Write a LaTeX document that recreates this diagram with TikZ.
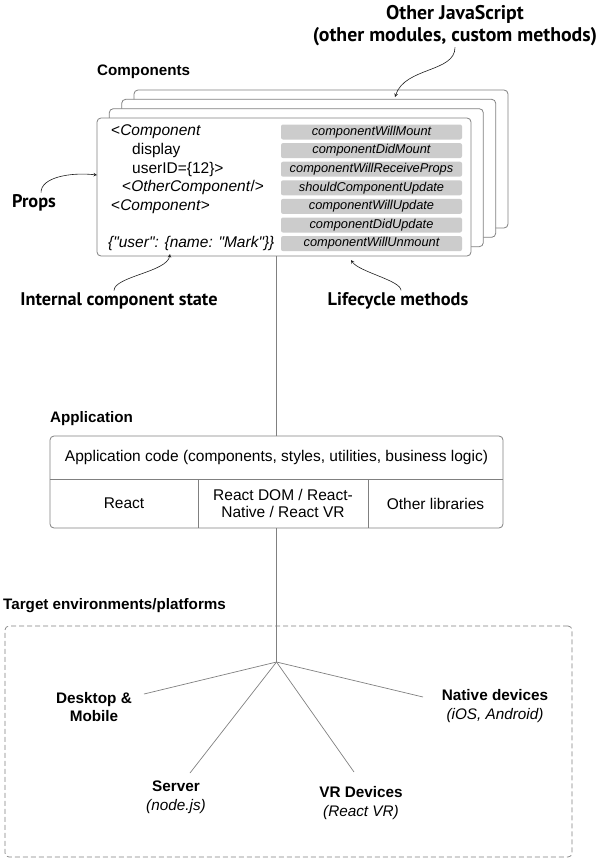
\documentclass[tikz,border=0pt]{standalone}
\usepackage{fontspec}
\setmainfont{Liberation Sans}
\newfontfamily\codefont{Liberation Sans}[Ligatures=TeXOff]
\newfontfamily\calloutfont{PT Sans}
\usepackage{tikz}
\usetikzlibrary{positioning, arrows}
\definecolor{linegray}{gray}{0.5}
\definecolor{pillgray}{gray}{0.8}
\definecolor{inkgray}{gray}{0.12}

\begin{document}
\begin{tikzpicture}[
        x=1pt, y=-1pt,
        % Define styles for the pieces
        card/.style={draw=linegray, fill=white, rounded corners=4pt, line width=0.8pt, outer sep=0pt, minimum width=374pt, minimum height=138pt},
        method/.style={fill=pillgray, rounded corners=2pt, minimum width=181pt, minimum height=15pt, inner sep=0pt, font=\fontsize{12.8}{14}\selectfont\itshape},
        code/.style={anchor=west, inner sep=0pt, font=\codefont\fontsize{15.5}{18}\selectfont},
        heading/.style={anchor=west, inner sep=0pt, font=\fontsize{15.2}{18}\selectfont\bfseries},
        callout/.style={align=center, inner sep=0pt, font=\calloutfont\fontsize{18.3}{22}\selectfont\bfseries},
        pointer/.style={->,>=stealth, line width=0.6pt, inkgray},
        cell/.style={align=center, inner sep=0pt, outer sep=0pt, font=\fontsize{15.5}{17.5}\selectfont},
        platform/.style={align=center, inner sep=0pt, font=\fontsize{15.3}{18.5}\selectfont\bfseries},
        link/.style={draw=linegray, line width=0.7pt}
    ]
    \useasboundingbox (0,0) rectangle (596,862);

    % Components: stacked cards
    \node[heading] (comphead) at (97,72) {Components};
    \node[card] (card3) at (321,159) {};
    \node[card] (card2) at (308.7,168.3) {};
    \node[card] (card1) at (296.3,177.7) {};
    \node[card] (front) at (284,187) {};

    \node[code] (tag) at (111,132) {<\textit{Component}};
    \node[code] (display) at (132,150.6) {display};
    \node[code] (userid) at (132,169.2) {userID=\{12\}>};
    \node[code] (child) at (122,187.8) {<\textit{OtherComponent}/>};
    \node[code] (close) at (111,206.4) {<\textit{Component}>};
    \node[code] (state) at (108,243.6) {\textit{\{"user": \{name: "Mark"\}\}}};

    \foreach \m [count=\i] in {componentWillMount, componentDidMount, componentWillReceiveProps,
        shouldComponentUpdate, componentWillUpdate, componentDidUpdate, componentWillUnmount}
        \node[method] (m\i) at (371.5,{132+18.6*(\i-1)}) {\m};

    % Callouts
    \node[callout, font=\calloutfont\fontsize{19.8}{22}\selectfont\bfseries] (otherjs) at (455,26) {Other JavaScript\\(other modules, custom methods)};
    \node[callout] (props) at (34,203) {Props};
    \node[callout] (statelabel) at (119,301) {Internal component state};
    \node[callout] (lifecycle) at (398,301) {Lifecycle methods};

    \coordinate (jstip) at (395,97);
    \coordinate (propstip) at (97,175);
    \coordinate (statetip) at (170,254);
    \coordinate (lifetip) at (351,260);

    \draw[pointer] ([xshift=0pt,yshift=-1pt]otherjs.south) .. controls +(0,25) and +(10,-30) .. (jstip);
    \draw[pointer] ([xshift=7pt,yshift=2pt]props.north) .. controls +(0,-15) and +(-27,-3) .. (propstip);
    \draw[pointer] ([xshift=-5pt,yshift=2pt]statelabel.north) .. controls +(0,-14) and +(-3,18) .. (statetip);
    \draw[pointer] ([xshift=3pt,yshift=2pt]lifecycle.north) .. controls +(0,-10) and +(8,12) .. (lifetip);

    % Application
    \node[heading] (apphead) at (50,419) {Application};
    \node[card, minimum width=453pt, minimum height=92pt] (app) at (276.5,482) {};
    \node[cell, minimum width=453pt, minimum height=43pt] (appcode) at (276.5,457.5)
        {Application code (components, styles, utilities, business logic)};
    \node[cell, minimum width=148pt, minimum height=49pt] (react) at (124,503.5) {React};
    \node[cell, minimum width=170pt, minimum height=49pt, right=0pt of react] (renderers)
        {React DOM / React-\\Native / React VR};
    \node[cell, minimum width=135pt, minimum height=49pt, right=0pt of renderers] (otherlibs) {Other libraries};
    \draw[link] (appcode.south west) -- (appcode.south east);
    \draw[link] (react.north east) -- (react.south east);
    \draw[link] (renderers.north east) -- (renderers.south east);

    \draw[link] (app.north) -- (app.north |- front.south);

    % Target environments
    \node[heading] (targethead) at (3,606) {Target environments/platforms};
    \node[draw=linegray, dash pattern=on 5pt off 3pt, rounded corners=4pt, line width=0.7pt,
        minimum width=567pt, minimum height=231pt] (targets) at (288.5,741.5) {};
    \coordinate (hub) at (276.5,662);
    \draw[link] (app.south) -- (hub);

    \node[platform] (desktop) at (94,707) {Desktop \&\\Mobile};
    \node[platform] (server) at (176,797) {Server\\\mdseries\itshape (node.js)};
    \node[platform] (vr) at (361,803) {VR Devices\\\mdseries\itshape (React VR)};
    \node[platform] (native) at (495,706) {Native devices\\\mdseries\itshape (iOS, Android)};

    \coordinate (deskend) at (144,694);
    \coordinate (serverend) at (190,773);
    \coordinate (vrend) at (354,772);
    \coordinate (nativeend) at (423,697);
    \foreach \e in {deskend, serverend, vrend, nativeend}
        \draw[link] (hub) -- (\e);
\end{tikzpicture}
\end{document}
